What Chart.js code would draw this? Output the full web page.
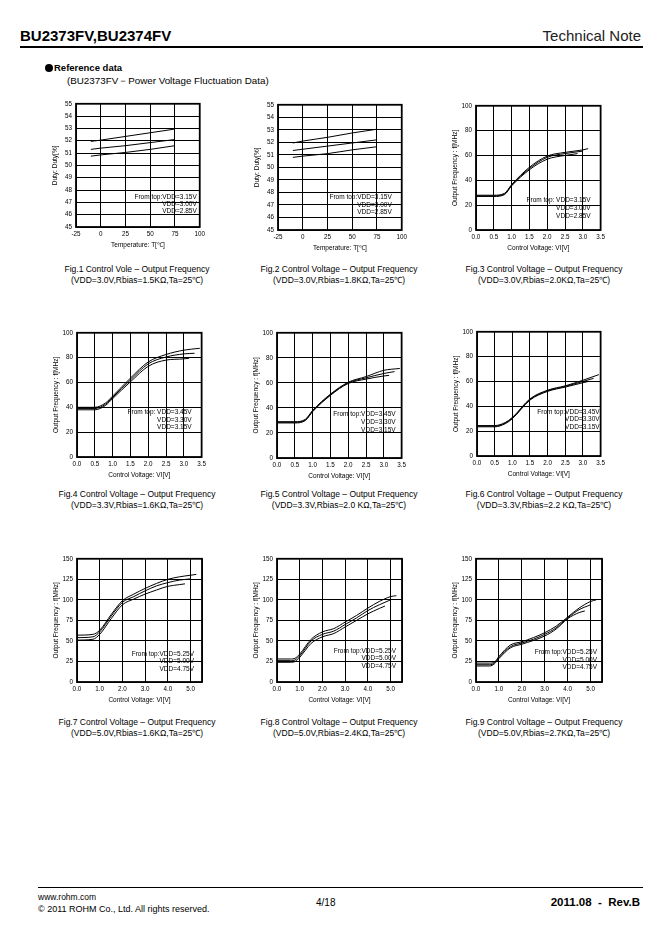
<!DOCTYPE html>
<html>
<head>
<meta charset="utf-8">
<script src="https://cdn.jsdelivr.net/npm/chart.js@4"></script>
<style>
  body { margin: 0; background: #fff; color: #000; font-family: "Liberation Sans", Arial, sans-serif; }
  #page { position: relative; width: 662px; height: 936px; overflow: hidden; }
  .t { position: absolute; white-space: nowrap; line-height: 1; }
  .rule { position: absolute; background: #000; }
  .dot { display: inline-block; width: 8px; height: 8px; border-radius: 50%; background: #000; margin-right: 1px; vertical-align: -0.5px; }
  .cap { position: absolute; width: 220px; text-align: center; font-size: 8.5px; line-height: 11px; white-space: nowrap; }
  canvas { position: absolute; }
</style>
</head>
<body>
<div id="page">
  <div class="t" style="left:20px;top:28px;font-size:15px;font-weight:bold;">BU2373FV,BU2374FV</div>
  <div class="t" style="right:21px;top:28px;font-size:15px;color:#222;">Technical Note</div>
  <div class="rule" style="left:20px;top:46px;width:623px;height:1.5px;"></div>
  <div class="t" style="left:45px;top:63px;font-size:9.5px;font-weight:bold;"><span class="dot"></span>Reference data</div>
  <div class="t" style="left:67px;top:76px;font-size:9.8px;">(BU2373FV－Power Voltage Fluctuation Data)</div>

  <div class="rule" style="left:38px;top:887px;width:605px;height:1px;"></div>
  <div class="t" style="left:38px;top:893px;font-size:8.5px;">www.rohm.com</div>
  <div class="t" style="left:38px;top:905px;font-size:9px;">© 2011 ROHM Co., Ltd. All rights reserved.</div>
  <div class="t" style="left:316px;top:898px;font-size:10px;">4/18</div>
  <div class="t" style="right:22px;top:897px;font-size:11.5px;font-weight:bold;">2011.08&nbsp; -&nbsp; Rev.B</div>
</div>
<script>
// ---- data ----
const tempX = [-10, 0, 25, 50, 75];
const duty1_315 = [51.95, 52.05, 52.35, 52.65, 52.95];
const duty1_300 = [51.3, 51.4, 51.6, 51.85, 52.1];
const duty1_285 = [50.75, 50.85, 51.05, 51.3, 51.6];
const duty2_315 = [51.95, 52.1, 52.4, 52.75, 53.05];
const duty2_300 = [51.35, 51.45, 51.7, 51.95, 52.2];
const duty2_285 = [50.8, 50.9, 51.1, 51.4, 51.65];

const f3x_315 = [0, 0.5, 0.8, 1.0, 1.5, 2.0, 2.5, 3.0, 3.15];
const f3y_315 = [28, 28, 29.5, 36.5, 50.5, 59.5, 62.5, 64.5, 65.5];
const f3x_300 = [0, 0.5, 0.8, 1.0, 1.5, 2.0, 2.5, 3.0];
const f3y_300 = [27.5, 27.5, 29, 36, 49.5, 58.5, 61.5, 63.5];
const f3x_285 = [0, 0.5, 0.8, 1.0, 1.5, 2.0, 2.5, 2.85];
const f3y_285 = [27, 27, 28.5, 35.5, 48.5, 57, 60, 61.5];

const f4x_345 = [0, 0.5, 0.8, 1.0, 1.5, 2.0, 2.5, 3.0, 3.45];
const f4y_345 = [40, 40, 43.5, 49, 63.5, 76.5, 82.5, 86, 87.5];
const f4x_330 = [0, 0.5, 0.8, 1.0, 1.5, 2.0, 2.5, 3.0, 3.3];
const f4y_330 = [39, 39, 42.5, 48, 62, 75, 80.5, 83, 83.5];
const f4x_315 = [0, 0.5, 0.8, 1.0, 1.5, 2.0, 2.5, 3.0, 3.15];
const f4y_315 = [38, 38, 41.5, 47, 60.5, 73, 78, 79, 79.5];

const f5x_345 = [0, 0.5, 0.8, 1.0, 1.5, 2.0, 2.5, 3.0, 3.45];
const f5y_345 = [29, 29, 31, 38, 51, 60.5, 65, 70, 71.5];
const f5x_330 = [0, 0.5, 0.8, 1.0, 1.5, 2.0, 2.5, 3.0, 3.3];
const f5y_330 = [28.5, 28.5, 30.5, 37.5, 50.5, 60, 64, 67.5, 69];
const f5x_315 = [0, 0.5, 0.8, 1.0, 1.5, 2.0, 2.5, 3.0, 3.15];
const f5y_315 = [28, 28, 30, 37, 50, 59.5, 63, 65.5, 66];

const f6x_345 = [0, 0.5, 0.8, 1.0, 1.5, 2.0, 2.5, 3.0, 3.45];
const f6y_345 = [24.5, 24.5, 27, 31, 46, 53, 56.5, 61, 65.5];
const f6x_330 = [0, 0.5, 0.8, 1.0, 1.5, 2.0, 2.5, 3.0, 3.3];
const f6y_330 = [24, 24, 26.5, 30.5, 45.5, 52.5, 56, 60, 62.5];
const f6x_315 = [0, 0.5, 0.8, 1.0, 1.5, 2.0, 2.5, 3.0, 3.15];
const f6y_315 = [23.5, 23.5, 26, 30, 45, 52, 55.5, 59, 60];

const f7x_525 = [0, 0.7, 1.0, 1.5, 2.0, 2.5, 3.0, 3.5, 4.0, 4.5, 5.0, 5.25];
const f7y_525 = [57, 58, 63, 82, 99, 107, 114, 120, 125, 128, 130, 131];
const f7x_500 = [0, 0.7, 1.0, 1.5, 2.0, 2.5, 3.0, 3.5, 4.0, 4.5, 5.0];
const f7y_500 = [54, 55, 61, 80, 97, 104, 111, 117, 121, 124, 125.5];
const f7x_475 = [0, 0.7, 1.0, 1.5, 2.0, 2.5, 3.0, 3.5, 4.0, 4.5, 4.75];
const f7y_475 = [51, 52, 58, 77, 94, 101, 107, 112, 116.5, 118.5, 119.5];

const f8x_525 = [0, 0.6, 0.8, 1.0, 1.5, 2.0, 2.5, 3.0, 3.5, 4.0, 4.5, 5.0, 5.25];
const f8y_525 = [28, 28, 29, 34, 52, 61, 65, 73, 81, 90, 98, 104, 105];
const f8x_500 = [0, 0.6, 0.8, 1.0, 1.5, 2.0, 2.5, 3.0, 3.5, 4.0, 4.5, 5.0];
const f8y_500 = [26, 26, 27, 32, 50, 58, 62, 70, 78, 87, 94, 100];
const f8x_475 = [0, 0.6, 0.8, 1.0, 1.5, 2.0, 2.5, 3.0, 3.5, 4.0, 4.5, 4.75];
const f8y_475 = [24, 24, 25, 30, 47, 55, 59, 67, 75, 83, 89.5, 92.5];

const f9x_525 = [0, 0.6, 0.8, 1.0, 1.5, 2.0, 2.5, 3.0, 3.5, 4.0, 4.5, 5.0, 5.25];
const f9y_525 = [23, 23, 24, 31, 45, 49, 54, 60, 68, 79, 90, 98, 100];
const f9x_500 = [0, 0.6, 0.8, 1.0, 1.5, 2.0, 2.5, 3.0, 3.5, 4.0, 4.5, 5.0];
const f9y_500 = [21, 21, 23, 29.5, 43, 47.5, 52, 58, 66, 78, 88, 94];
const f9x_475 = [0, 0.6, 0.8, 1.0, 1.5, 2.0, 2.5, 3.0, 3.5, 4.0, 4.5, 4.75];
const f9y_475 = [19.5, 19.5, 22, 28.5, 41.5, 46, 50.5, 56, 64.5, 77, 84.5, 86.5];

// x grid positions for the 5 V charts (last one is the frame, unlabeled)
const v55Ticks = [0, 1, 2, 3, 4, 5, 5.5];

const notes33 = ["From top:VDD=3.15V", "VDD=3.00V", "VDD=2.85V"];
const notes34 = ["From top:VDD=3.45V", "VDD=3.30V", "VDD=3.15V"];
const notes50 = ["From top:VDD=5.25V", "VDD=5.00V", "VDD=4.75V"];

const captions = [
  ["Fig.1 Control Vole – Output Frequency", "(VDD=3.0V,Rbias=1.5KΩ,Ta=25℃)"],
  ["Fig.2 Control Voltage – Output Frequency", "(VDD=3.0V,Rbias=1.8KΩ,Ta=25℃)"],
  ["Fig.3 Control Voltage – Output Frequency", "(VDD=3.0V,Rbias=2.0KΩ,Ta=25℃)"],
  ["Fig.4 Control Voltage – Output Frequency", "(VDD=3.3V,Rbias=1.6KΩ,Ta=25℃)"],
  ["Fig.5 Control Voltage – Output Frequency", "(VDD=3.3V,Rbias=2.0 KΩ,Ta=25℃)"],
  ["Fig.6 Control Voltage – Output Frequency", "(VDD=3.3V,Rbias=2.2 KΩ,Ta=25℃)"],
  ["Fig.7 Control Voltage – Output Frequency", "(VDD=5.0V,Rbias=1.6KΩ,Ta=25℃)"],
  ["Fig.8 Control Voltage – Output Frequency", "(VDD=5.0V,Rbias=2.4KΩ,Ta=25℃)"],
  ["Fig.9 Control Voltage – Output Frequency", "(VDD=5.0V,Rbias=2.7KΩ,Ta=25℃)"]
];

// ---- layout ----
const FONT = '"Liberation Sans", Arial, sans-serif';
const PAD_L = 30, PAD_T = 6, PAD_R = 6, PAD_B = 24;

const zip = (xs, ys) => xs.map((x, i) => ({ x, y: ys[i] }));

// frame + "From top" text
const framePlugin = {
  id: 'frame',
  afterDraw(chart, args, opts) {
    const { ctx, chartArea: a } = chart;
    ctx.save();
    ctx.strokeStyle = '#000';
    ctx.lineWidth = 1.8;
    ctx.strokeRect(a.left, a.top, a.right - a.left, a.bottom - a.top);
    if (opts.lines) {
      ctx.font = '6.5px ' + FONT;
      ctx.fillStyle = '#000';
      ctx.textAlign = 'right';
      ctx.textBaseline = 'middle';
      opts.lines.forEach((s, i) => {
        ctx.fillText(s, a.right - opts.inset, a.bottom - opts.offs[i]);
      });
    }
    ctx.restore();
  }
};

function makeChart(n, box, series, xs, ys, yTitle, xTitle, note, capPos) {
  const page = document.getElementById('page');
  const cv = document.createElement('canvas');
  const W = box.w + PAD_L + PAD_R, H = box.h + PAD_T + PAD_B;
  cv.width = W; cv.height = H;
  cv.style.left = (box.l - PAD_L) + 'px';
  cv.style.top = (box.t - PAD_T) + 'px';
  cv.style.width = W + 'px'; cv.style.height = H + 'px';
  page.appendChild(cv);

  new Chart(cv.getContext('2d'), {
    type: 'line',
    data: {
      datasets: series.map(d => ({
        data: d,
        borderColor: '#000',
        borderWidth: 1,
        pointRadius: 0,
        fill: false,
        tension: 0.4,
        cubicInterpolationMode: 'monotone'
      }))
    },
    options: {
      responsive: false,
      animation: false,
      devicePixelRatio: 1,
      layout: { padding: { left: 0, top: PAD_T, right: PAD_R, bottom: 0 } },
      plugins: {
        legend: { display: false },
        tooltip: { enabled: false },
        frame: note
      },
      scales: {
        x: {
          type: 'linear',
          min: xs.min, max: xs.max,
          afterFit(s) { s.height = PAD_B; },
          afterBuildTicks(s) { if (xs.ticks) s.ticks = xs.ticks.map(v => ({ value: v })); },
          border: { display: false },
          grid: { color: '#000', lineWidth: 1, drawTicks: false },
          ticks: {
            stepSize: xs.step, padding: 3, maxRotation: 0, autoSkip: false,
            color: '#000', font: { family: FONT, size: 6.3 },
            callback: xs.fmt
          },
          title: { display: true, text: xTitle, color: '#000', font: { family: FONT, size: 6.5 }, padding: { top: 0, bottom: 2 } }
        },
        y: {
          type: 'linear',
          min: ys.min, max: ys.max,
          afterFit(s) { s.width = PAD_L; },
          border: { display: false },
          grid: { color: '#000', lineWidth: 1, drawTicks: false },
          ticks: {
            stepSize: ys.step, padding: 4, autoSkip: false,
            color: '#000', font: { family: FONT, size: 6.3 }
          },
          title: { display: true, text: yTitle, color: '#000', font: { family: FONT, size: 6.5 }, padding: { top: 5, bottom: 0 } }
        }
      }
    },
    plugins: [framePlugin]
  });

  const cap = captions[n];
  const c = document.createElement('div');
  c.className = 'cap';
  c.style.left = (capPos.x - 110) + 'px';
  c.style.top = capPos.y + 'px';
  c.innerHTML = cap[0] + '<br>' + cap[1];
  page.appendChild(c);
}

const tempAxis = { min: -25, max: 100, step: 25, fmt: v => String(v) };
const v35Axis = { min: 0, max: 3.5, step: 0.5, fmt: v => v.toFixed(1) };
const v55Axis = { min: 0, max: 5.5, step: 1, ticks: v55Ticks, fmt: v => (v > 5.2 ? '' : v.toFixed(1)) };
const dutyAxis = { min: 45, max: 55, step: 1 };
const f100Axis = { min: 0, max: 100, step: 20 };
const f150Axis = { min: 0, max: 150, step: 25 };

const DUTY = 'Duty: Duty[%]';
const TEMP = 'Temperature: T[℃]';
const FREQ = 'Output Frequency : f[MHz]';
const CTRL = 'Control Voltage: VI[V]';

makeChart(0, { l: 76, t: 102, w: 126, h: 125 },
  [zip(tempX, duty1_315), zip(tempX, duty1_300), zip(tempX, duty1_285)],
  tempAxis, dutyAxis, DUTY, TEMP, { lines: notes33, inset: 3, offs: [30, 23, 16] }, { x: 137, y: 264 });
makeChart(1, { l: 278, t: 103, w: 126, h: 127 },
  [zip(tempX, duty2_315), zip(tempX, duty2_300), zip(tempX, duty2_285)],
  tempAxis, dutyAxis, DUTY, TEMP, { lines: notes33, inset: 10, offs: [33, 25, 18] }, { x: 339, y: 264 });
makeChart(2, { l: 476, t: 104, w: 126, h: 126 },
  [zip(f3x_315, f3y_315), zip(f3x_300, f3y_300), zip(f3x_285, f3y_285)],
  v35Axis, f100Axis, FREQ, CTRL, { lines: ["From top: VDD=3.15V", "VDD=3.00V", "VDD=2.85V"], inset: 10, offs: [30, 22, 14] }, { x: 544, y: 264 });

makeChart(3, { l: 77, t: 331, w: 126, h: 126 },
  [zip(f4x_345, f4y_345), zip(f4x_330, f4y_330), zip(f4x_315, f4y_315)],
  v35Axis, f100Axis, FREQ, CTRL, { lines: ["From top: VDD=3.45V", "VDD=3.30V", "VDD=3.15V"], inset: 10, offs: [45, 37, 30] }, { x: 137, y: 489 });
makeChart(4, { l: 277, t: 331, w: 126, h: 127 },
  [zip(f5x_345, f5y_345), zip(f5x_330, f5y_330), zip(f5x_315, f5y_315)],
  v35Axis, f100Axis, FREQ, CTRL, { lines: notes34, inset: 6, offs: [44, 36, 28] }, { x: 339, y: 489 });
makeChart(5, { l: 477, t: 330, w: 125, h: 126 },
  [zip(f6x_345, f6y_345), zip(f6x_330, f6y_330), zip(f6x_315, f6y_315)],
  v35Axis, f100Axis, FREQ, CTRL, { lines: notes34, inset: 1, offs: [44, 37, 29] }, { x: 544, y: 489 });

makeChart(6, { l: 77, t: 557, w: 125, h: 125 },
  [zip(f7x_525, f7y_525), zip(f7x_500, f7y_500), zip(f7x_475, f7y_475)],
  v55Axis, f150Axis, FREQ, CTRL, { lines: notes50, inset: 8, offs: [28, 21, 13] }, { x: 137, y: 717 });
makeChart(7, { l: 277, t: 557, w: 125, h: 125 },
  [zip(f8x_525, f8y_525), zip(f8x_500, f8y_500), zip(f8x_475, f8y_475)],
  v55Axis, f150Axis, FREQ, CTRL, { lines: notes50, inset: 6, offs: [31, 24, 16] }, { x: 339, y: 717 });
makeChart(8, { l: 476, t: 557, w: 126, h: 125 },
  [zip(f9x_525, f9y_525), zip(f9x_500, f9y_500), zip(f9x_475, f9y_475)],
  v55Axis, f150Axis, FREQ, CTRL, { lines: notes50, inset: 5, offs: [30, 22, 15] }, { x: 544, y: 717 });
</script>
</body>
</html>
